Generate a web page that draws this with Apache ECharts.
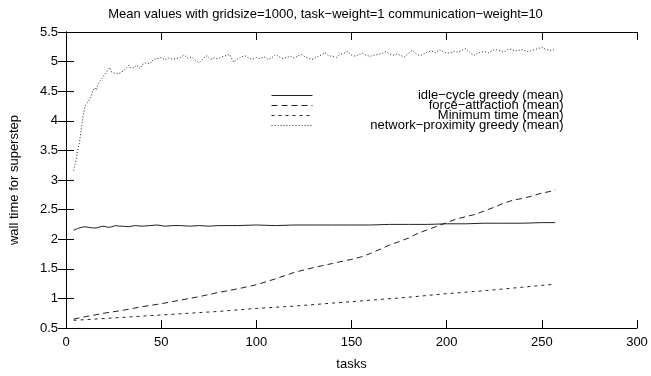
<!DOCTYPE html>
<html>
<head>
<meta charset="utf-8">
<script src="https://cdn.jsdelivr.net/npm/echarts@6/dist/echarts.min.js"></script>
<style>
html,body{margin:0;padding:0;background:#fff;}
#chart{width:651px;height:376px;}
</style>
</head>
<body>
<div id="chart"></div>
<script>
const FONT = '"Liberation Sans", Arial, Helvetica, sans-serif';
const titleText = 'Mean values with gridsize=1000, task\u2212weight=1 communication\u2212weight=10';
const xAxisName = 'tasks';
const yAxisName = 'wall time for superstep';
const seriesNames = ['idle\u2212cycle greedy (mean)', 'force\u2212attraction (mean)', 'Minimum time (mean)', 'network\u2212proximity greedy (mean)'];

const idleX = [4,5,6,7,8,9,10,12,14,16,18,20,22,24,26,28,30,33,36,40,44,48,52,56,60,65,70,75,80,90,100,110,120,130,140,150,160,170,180,190,200,210,220,230,240,250,257];
const idleY = [2.15,2.16,2.18,2.19,2.20,2.20,2.21,2.20,2.19,2.19,2.21,2.22,2.20,2.21,2.23,2.22,2.22,2.21,2.23,2.22,2.23,2.24,2.22,2.23,2.23,2.22,2.23,2.22,2.23,2.23,2.24,2.23,2.24,2.24,2.24,2.24,2.24,2.25,2.25,2.25,2.26,2.26,2.27,2.27,2.27,2.28,2.28];

const forceX = [4,10,20,30,40,50,60,70,80,90,100,110,120,130,140,150,155,160,165,170,175,180,185,190,195,200,205,210,215,220,225,230,235,240,245,250,255,257];
const forceY = [0.65,0.69,0.75,0.80,0.86,0.91,0.97,1.03,1.10,1.16,1.23,1.33,1.44,1.52,1.59,1.66,1.70,1.76,1.83,1.90,1.96,2.02,2.10,2.16,2.22,2.28,2.34,2.38,2.42,2.48,2.54,2.61,2.66,2.69,2.73,2.78,2.81,2.84];

const minX = [4,20,40,60,80,100,120,140,160,180,200,220,240,257];
const minY = [0.63,0.66,0.70,0.74,0.78,0.83,0.87,0.92,0.97,1.02,1.08,1.13,1.19,1.24];

const netX = [4,5,6,7,8,9,10,11,12,13,14,15,16,17,18,19,20,21,22,23,24,25,26,27,28,29,30,31,32,33,34,35,36,37,38,39,40,
  42,44,46,48,50,52,54,56,58,60,62,64,66,68,70,72,74,76,78,80,82,84,86,88,90,92,94,96,98,100,
  102,104,106,108,110,112,114,116,118,120,122,124,126,128,130,132,134,136,138,140,142,144,146,148,150,
  152,154,156,158,160,162,164,166,168,170,172,174,176,178,180,182,184,186,188,190,192,194,196,198,200,
  202,204,206,208,210,212,214,216,218,220,222,224,226,228,230,232,234,236,238,240,242,244,246,248,250,
  252,254,256,257];
const netY = [3.16,3.30,3.48,3.62,3.85,4.08,4.25,4.23,4.34,4.40,4.50,4.56,4.52,4.63,4.68,4.72,4.77,4.80,4.86,4.90,4.82,4.84,4.80,4.77,4.80,4.83,4.84,4.87,4.90,4.94,4.89,4.92,4.90,4.94,4.91,4.88,4.95,
  4.98,4.96,5.04,5.05,5.07,5.03,5.06,5.04,5.05,5.07,5.11,5.06,5.08,5.02,4.98,5.05,5.10,5.04,5.06,5.05,5.08,5.10,5.12,4.99,5.04,5.08,5.10,5.06,5.04,5.07,
  5.05,5.08,5.04,5.06,5.12,5.08,5.05,5.07,5.09,5.06,5.10,5.12,5.07,5.05,5.04,5.08,5.11,5.15,5.10,5.09,5.07,5.12,5.14,5.17,5.11,
  5.09,5.12,5.14,5.10,5.09,5.11,5.12,5.14,5.17,5.13,5.11,5.13,5.10,5.08,5.14,5.19,5.13,5.10,5.13,5.16,5.18,5.15,5.20,5.17,5.14,
  5.15,5.17,5.16,5.19,5.22,5.16,5.10,5.14,5.16,5.17,5.15,5.19,5.20,5.18,5.16,5.20,5.21,5.18,5.19,5.20,5.17,5.18,5.20,5.22,5.24,
  5.21,5.19,5.20,5.19];

const xTicks = {min: 0, max: 300, interval: 50};
const yTicks = {min: 0.5, max: 5.5, interval: 0.5};

function pairs(xs, ys) { return xs.map((x, i) => [x, ys[i]]); }

const chart = echarts.init(document.getElementById('chart'), null, {renderer: 'canvas'});
const axisLineStyle = {color: '#000', width: 1};
const tick = {show: true, inside: true, length: 8, lineStyle: {color: '#000', width: 1}};
const label = {color: '#000', fontSize: 13, fontFamily: FONT};

function lineSeries(name, data, type) {
  return {
    name: name, type: 'line', data: data, showSymbol: false, symbol: 'none',
    xAxisIndex: 0, yAxisIndex: 0, animation: false, silent: true,
    itemStyle: {color: '#000'},
    lineStyle: {color: '#222', width: 1, type: type}
  };
}

chart.setOption({
  animation: false,
  backgroundColor: '#fff',
  title: {
    text: titleText, left: 'center', top: 3,
    textStyle: {fontSize: 13, fontWeight: 'normal', color: '#000', fontFamily: FONT}
  },
  grid: {left: 64, right: 14, top: 32, bottom: 44, containLabel: false},
  legend: {
    orient: 'vertical', left: 271, top: 89, padding: 0, itemWidth: 41, itemHeight: 10, itemGap: -3,
    selectedMode: false,
    data: seriesNames,
    itemStyle: {opacity: 0},
    lineStyle: {width: 1},
    formatter: function (n) { return '{a|' + n + '}'; },
    textStyle: {lineHeight: 10, fontSize: 13, fontFamily: FONT,
      rich: {a: {width: 246, align: 'right', fontSize: 13, lineHeight: 10, color: '#000', fontFamily: FONT}}}
  },
  xAxis: [
    {type: 'value', min: xTicks.min, max: xTicks.max, interval: xTicks.interval, position: 'bottom',
     name: xAxisName, nameLocation: 'middle', nameGap: 30,
     nameTextStyle: {color: '#000', fontSize: 13, fontFamily: FONT},
     axisLine: {show: true, lineStyle: axisLineStyle}, axisTick: tick, axisLabel: Object.assign({margin: 8}, label), splitLine: {show: false}},
    {type: 'value', min: xTicks.min, max: xTicks.max, interval: xTicks.interval, position: 'top',
     axisLine: {show: true, lineStyle: axisLineStyle}, axisTick: tick, axisLabel: {show: false}, splitLine: {show: false}}
  ],
  yAxis: [
    {type: 'value', min: yTicks.min, max: yTicks.max, interval: yTicks.interval, position: 'left',
     name: yAxisName, nameLocation: 'middle', nameGap: 45,
     nameTextStyle: {color: '#000', fontSize: 13, fontFamily: FONT},
     axisLine: {show: true, lineStyle: axisLineStyle}, axisTick: tick, axisLabel: Object.assign({margin: 8}, label), splitLine: {show: false}},
    {type: 'value', min: yTicks.min, max: yTicks.max, interval: yTicks.interval, position: 'right',
     axisLine: {show: true, lineStyle: axisLineStyle}, axisTick: tick, axisLabel: {show: false}, splitLine: {show: false}}
  ],
  series: [
    lineSeries(seriesNames[0], pairs(idleX, idleY), 'solid'),
    lineSeries(seriesNames[1], pairs(forceX, forceY), [6, 4]),
    lineSeries(seriesNames[2], pairs(minX, minY), [3, 4]),
    lineSeries(seriesNames[3], pairs(netX, netY), [1, 2])
  ]
});
</script>
</body>
</html>
